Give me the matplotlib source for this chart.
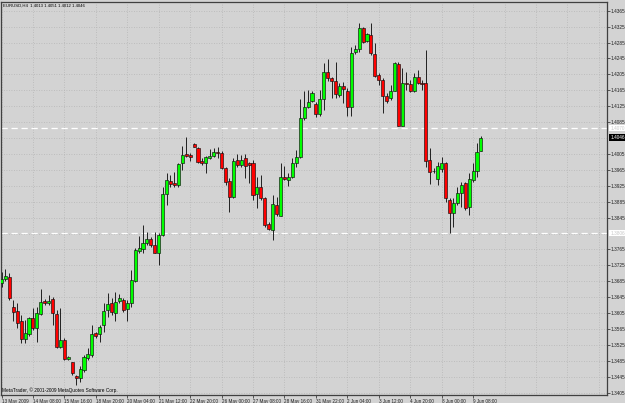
import matplotlib
matplotlib.use("Agg")
import matplotlib.pyplot as plt
import numpy as np

# ---------------- data (EURUSD H4) ----------------
opens = [1.3680, 1.3691, 1.3697, 1.3620, 1.3610, 1.3584, 1.3539, 1.3553, 1.3592, 1.3567,
         1.3603, 1.3636, 1.3630, 1.3640, 1.3603, 1.3519, 1.3538, 1.3489, 1.3481, 1.3448,
         1.3441, 1.3462, 1.3492, 1.3500, 1.3554, 1.3553, 1.3575, 1.3613, 1.3630, 1.3606,
         1.3636, 1.3638, 1.3615, 1.3630, 1.3687, 1.3762, 1.3765, 1.3781, 1.3791, 1.3775,
         1.3757, 1.3801, 1.3904, 1.3937, 1.3932, 1.3927, 1.3982, 1.4004, 1.4002, 1.4029,
         1.4021, 1.3987, 1.3982, 1.3996, 1.4001, 1.4011, 1.4008, 1.3969, 1.3937, 1.3898,
         1.3990, 1.3978, 1.3994, 1.3982, 1.3982, 1.3904, 1.3921, 1.3895, 1.3828, 1.3814,
         1.3877, 1.3850, 1.3948, 1.3940, 1.3948, 1.3982, 1.3998, 1.4095, 1.4124, 1.4139,
         1.4131, 1.4105, 1.4142, 1.4211, 1.4197, 1.4188, 1.4153, 1.4176, 1.4164, 1.4122,
         1.4260, 1.4268, 1.4321, 1.4290, 1.4304, 1.4255, 1.4203, 1.4191, 1.4151, 1.4145,
         1.4164, 1.4231, 1.4075, 1.4184, 1.4180, 1.4164, 1.4199, 1.4183, 1.4183, 1.3990,
         1.3963, 1.3941, 1.3966, 1.3982, 1.3889, 1.3857, 1.3883, 1.3906, 1.3931, 1.3871,
         1.3940, 1.3963, 1.4013]
highs = [1.3708, 1.3715, 1.3706, 1.3638, 1.3630, 1.3600, 1.3588, 1.3596, 1.3618, 1.3621,
         1.3665, 1.3641, 1.3651, 1.3646, 1.3613, 1.3617, 1.3542, 1.3497, 1.3483, 1.3450,
         1.3472, 1.3500, 1.3517, 1.3575, 1.3558, 1.3575, 1.3630, 1.3656, 1.3643, 1.3657,
         1.3652, 1.3643, 1.3638, 1.3713, 1.3769, 1.3799, 1.3827, 1.3810, 1.3796, 1.3810,
         1.3806, 1.3923, 1.3956, 1.3952, 1.3960, 1.3982, 1.4025, 1.4048, 1.4007, 1.4033,
         1.4023, 1.3994, 1.4000, 1.4018, 1.4019, 1.4023, 1.4012, 1.3973, 1.3945, 1.3994,
         1.4005, 1.4002, 1.4005, 1.3985, 1.3990, 1.3948, 1.3952, 1.3898, 1.3835, 1.3902,
         1.3898, 1.3982, 1.3975, 1.3956, 1.3994, 1.4015, 1.4142, 1.4162, 1.4166, 1.4162,
         1.4136, 1.4166, 1.4233, 1.4243, 1.4199, 1.4237, 1.4183, 1.4187, 1.4170, 1.4273,
         1.4279, 1.4333, 1.4325, 1.4308, 1.4335, 1.4283, 1.4208, 1.4195, 1.4157, 1.4178,
         1.4237, 1.4237, 1.4220, 1.4212, 1.4191, 1.4208, 1.4216, 1.4191, 1.4266, 1.4019,
         1.3970, 1.3985, 1.3998, 1.3985, 1.3894, 1.3894, 1.3923, 1.3935, 1.3935, 1.3956,
         1.3982, 1.4032, 1.4051]
lows = [1.3671, 1.3686, 1.3638, 1.3584, 1.3567, 1.3529, 1.3529, 1.3548, 1.3563, 1.3533,
        1.3600, 1.3625, 1.3625, 1.3575, 1.3517, 1.3517, 1.3487, 1.3487, 1.3450, 1.3424,
        1.3433, 1.3458, 1.3487, 1.3496, 1.3543, 1.3533, 1.3558, 1.3596, 1.3600, 1.3584,
        1.3630, 1.3608, 1.3584, 1.3621, 1.3684, 1.3756, 1.3756, 1.3776, 1.3771, 1.3755,
        1.3726, 1.3799, 1.3877, 1.3923, 1.3922, 1.3922, 1.3965, 1.3998, 1.3988, 1.4022,
        1.3982, 1.3977, 1.3956, 1.3992, 1.3998, 1.3994, 1.3966, 1.3927, 1.3860, 1.3894,
        1.3973, 1.3973, 1.3945, 1.3931, 1.3889, 1.3868, 1.3889, 1.3822, 1.3814, 1.3789,
        1.3849, 1.3849, 1.3940, 1.3925, 1.3945, 1.3973, 1.3994, 1.4090, 1.4120, 1.4136,
        1.4099, 1.4100, 1.4116, 1.4189, 1.4145, 1.4145, 1.4149, 1.4132, 1.4100, 1.4100,
        1.4256, 1.4262, 1.4283, 1.4286, 1.4254, 1.4199, 1.4178, 1.4107, 1.4134, 1.4141,
        1.4162, 1.4074, 1.4074, 1.4166, 1.4161, 1.4161, 1.4180, 1.4166, 1.3972, 1.3930,
        1.3957, 1.3927, 1.3960, 1.3885, 1.3806, 1.3822, 1.3877, 1.3872, 1.3864, 1.3852,
        1.3935, 1.3948, 1.4012]
closes = [1.3690, 1.3699, 1.3642, 1.3609, 1.3581, 1.3539, 1.3554, 1.3592, 1.3567, 1.3605,
          1.3634, 1.3630, 1.3635, 1.3605, 1.3519, 1.3538, 1.3490, 1.3494, 1.3454, 1.3441,
          1.3464, 1.3494, 1.3502, 1.3553, 1.3548, 1.3571, 1.3611, 1.3628, 1.3609, 1.3634,
          1.3642, 1.3613, 1.3630, 1.3688, 1.3764, 1.3769, 1.3781, 1.3791, 1.3776, 1.3757,
          1.3801, 1.3904, 1.3940, 1.3930, 1.3927, 1.3979, 1.4002, 1.3999, 1.3998, 1.4023,
          1.3986, 1.3982, 1.3997, 1.4001, 1.4009, 1.4007, 1.3969, 1.3935, 1.3898, 1.3988,
          1.3977, 1.3991, 1.3975, 1.3977, 1.3902, 1.3921, 1.3895, 1.3826, 1.3816, 1.3879,
          1.3853, 1.3946, 1.3941, 1.3948, 1.3982, 1.3998, 1.4095, 1.4124, 1.4136, 1.4157,
          1.4105, 1.4142, 1.4212, 1.4195, 1.4189, 1.4155, 1.4176, 1.4168, 1.4122, 1.4258,
          1.4268, 1.4321, 1.4287, 1.4307, 1.4258, 1.4201, 1.4191, 1.4151, 1.4139, 1.4164,
          1.4233, 1.4075, 1.4183, 1.4180, 1.4164, 1.4198, 1.4184, 1.4182, 1.3988, 1.3960,
          1.3962, 1.3975, 1.3982, 1.3894, 1.3857, 1.3881, 1.3908, 1.3927, 1.3868, 1.3941,
          1.3963, 1.4011, 1.4046]

time_labels = ["13 May 2009", "14 May 08:00", "15 May 16:00", "18 May 20:00",
               "20 May 04:00", "21 May 12:00", "22 May 20:00", "26 May 00:00",
               "27 May 08:00", "28 May 16:00", "31 May 22:00", "2 Jun 04:00",
               "3 Jun 12:00", "4 Jun 20:00", "8 Jun 00:00", "9 Jun 08:00"]
bars_per_label = 8
price_levels = [round(1.3405 + 0.004 * k, 4) for k in range(25)]
hlines = [1.4070, 1.3806]
symbol = "EURUSD,H4"
copyright_text = "MetaTrader, \u00a9 2001-2009 MetaQuotes Software Corp."

# ---------------- style ----------------
BG = "#d3d3d3"
GRID = "#b6b6b6"
BULL = "#00ff00"
BEAR = "#ff0000"
EDGE = "#101010"
FRAME = "#404040"
FONT = ["Liberation Sans", "DejaVu Sans"]
plt.rcParams["font.family"] = FONT
FS_AXIS = 3.3
FS_PRICE = 3.4

W, H = 625, 403
fig = plt.figure(figsize=(W / 100, H / 100), dpi=100, facecolor=BG)
left_px, right_px, top_px, bot_px = 0.5, 606.5, 1.7, 395.0
ax = fig.add_axes([left_px / W, 1 - bot_px / H, (right_px - left_px) / W, (bot_px - top_px) / H])
ax.set_facecolor(BG)

n = len(opens)
x = np.arange(n)
o = np.array(opens); h = np.array(highs); l = np.array(lows); c = np.array(closes)
up = c >= o

step_px = 3.93
ax.set_xlim(-(1.5 - left_px) / step_px, (right_px - 1.5) / step_px)
ax.set_ylim(1.33993, 1.43876)

# grid
for gx in np.arange(0, ax.get_xlim()[1], bars_per_label):
    ax.axvline(gx, color=GRID, lw=0.6, ls=(0, (1, 2)), zorder=0)
for gy in price_levels:
    ax.axhline(gy, color=GRID, lw=0.6, ls=(0, (1, 2)), zorder=0)

# horizontal user lines
for hy in hlines:
    ax.axhline(hy, color="white", lw=0.9, ls=(0, (5, 3)), zorder=1)

# candles
ax.vlines(x, l, h, color="#202020", lw=0.7, zorder=2)
bottoms = np.minimum(o, c)
heights = np.maximum(np.abs(c - o), 0.00003)
colors = np.where(up, BULL, BEAR)
ax.bar(x, heights, bottom=bottoms, width=0.78, color=colors, edgecolor=EDGE,
       linewidth=0.45, zorder=3)

# frame
for s in ax.spines.values():
    s.set_color(FRAME)
    s.set_linewidth(0.9)

# right price axis
ax.yaxis.tick_right()
shown = [p for p in price_levels if abs(p - 1.4045) > 1e-6 and abs(p - 1.3805) > 1e-6]
ax.set_yticks(shown)
ax.set_yticklabels([f"{p:.4f}" for p in shown])
ax.tick_params(axis="y", direction="out", length=2, width=0.5, colors="#202020",
               labelsize=FS_PRICE, pad=1)

# bottom time axis
tick_pos = [k * bars_per_label for k in range(len(time_labels))]
ax.set_xticks(tick_pos)
ax.set_xticklabels(time_labels)
for lab in ax.get_xticklabels():
    lab.set_horizontalalignment("left")
ax.tick_params(axis="x", direction="out", length=2.5, width=0.5, colors="#202020",
               labelsize=FS_AXIS, pad=0.6)

# price boxes on right axis
tr = ax.get_yaxis_transform()
for hy in hlines:
    ax.text(1.006, hy, f"{hy:.4f}", transform=tr, fontsize=FS_PRICE, color="#c8c8c8",
            va="center", ha="left", clip_on=False,
            bbox=dict(boxstyle="square,pad=0.15", fc="white", ec="white", lw=0))
ax.text(1.006, closes[-1], f"{closes[-1]:.4f}", transform=tr, fontsize=FS_PRICE, color="white",
        va="center", ha="left", clip_on=False,
        bbox=dict(boxstyle="square,pad=0.15", fc="black", ec="black", lw=0))

# header and copyright
fig.text(3 / W, 1 - 6 / H,
         f"{symbol}  {opens[-1]:.4f} {highs[-1]:.4f} {lows[-1]:.4f} {closes[-1]:.4f}",
         fontsize=3.1, color="black", va="center", ha="left")
fig.text(2 / W, 1 - 390 / H, copyright_text, fontsize=3.4, color="black",
         va="center", ha="left")

fig.savefig("out.png", dpi=100, facecolor=BG)
